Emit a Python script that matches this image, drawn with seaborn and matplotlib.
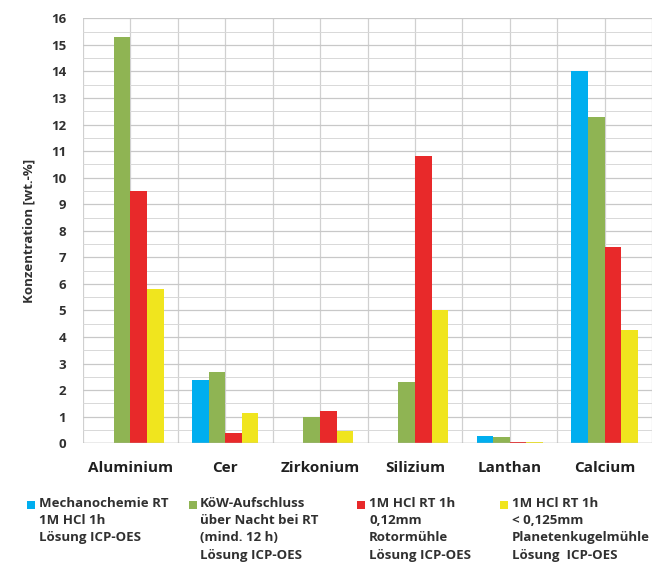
import matplotlib
matplotlib.use("Agg")
import matplotlib.pyplot as plt
from matplotlib.patches import Rectangle
from matplotlib.ticker import MultipleLocator
import numpy as np
import pandas as pd
import seaborn as sns

# Elements and concentrations [wt.-%] for each digestion method
elements = ["Aluminium", "Cer", "Zirkonium", "Silizium", "Lanthan", "Calcium"]
mechanochemie = [0.02, 2.37, 0.0, 0.03, 0.27, 14.0]
koew = [15.3, 2.7, 1.0, 2.3, 0.25, 12.3]
hcl_rotor = [9.5, 0.4, 1.2, 10.8, 0.05, 7.4]
hcl_planet = [5.8, 1.15, 0.46, 5.0, 0.06, 4.25]

series_labels = [
    "Mechanochemie RT\n1M HCl 1h\nLösung ICP-OES",
    "KöW-Aufschluss\nüber Nacht bei RT\n(mind. 12 h)\nLösung ICP-OES",
    "1M HCl RT 1h\n0,12mm\nRotormühle\nLösung ICP-OES",
    "1M HCl RT 1h\n< 0,125mm\nPlanetenkugelmühle\nLösung  ICP-OES",
]
colors = ["#00AEEF", "#8FB453", "#E8292A", "#F0E51E"]

rows = []
for lab, vals in zip(series_labels, [mechanochemie, koew, hcl_rotor, hcl_planet]):
    for el, v in zip(elements, vals):
        rows.append({"Element": el, "Methode": lab, "Wert": v})
df = pd.DataFrame(rows)

sns.set_theme(style="white")
plt.rcParams["font.family"] = ["Open Sans", "DejaVu Sans"]

W, H = 661, 569
fig = plt.figure(figsize=(W / 100, H / 100), dpi=100)
ax = fig.add_axes([83 / W, 1 - 443.3 / H, (652 - 83) / W, (443.3 - 18.3) / H])

sns.barplot(data=df, x="Element", y="Wert", hue="Methode", hue_order=series_labels,
            order=elements, palette=colors, width=0.7, gap=0, saturation=1,
            linewidth=0, ax=ax, legend=False, zorder=3)

ax.set_ylim(0, 16)
ax.set_xlim(-0.5, len(elements) - 0.5)
ax.yaxis.set_major_locator(MultipleLocator(1))
ax.yaxis.set_minor_locator(MultipleLocator(0.5))
ax.grid(axis="y", which="major", color="#c8c8c8", linewidth=0.9, zorder=0)
ax.grid(axis="y", which="minor", color="#d8d8d8", linewidth=0.7, zorder=0)
for xv in np.arange(-0.5, len(elements), 0.5):
    ax.axvline(xv, color="#d0d0d0", linewidth=0.9, zorder=0)
for s in ax.spines.values():
    s.set_visible(False)
ax.axhline(0, color="#b8b8b8", linewidth=1.0, zorder=4)

ax.set_xlabel("")
ax.set_ylabel("Konzentration [wt.-%]", fontsize=9.5, fontweight="bold",
              color="#303030", labelpad=11)
ax.tick_params(axis="y", which="both", length=0, pad=12, labelsize=9.5,
               labelcolor="#303030")
ax.tick_params(axis="x", length=0, pad=13, labelsize=11, labelcolor="#202020")
for t in ax.get_yticklabels() + ax.get_xticklabels():
    t.set_fontweight("bold")

# legend below the chart
marker_x = [27, 189, 357, 500]
text_x = [39, 200, 369, 512]
for mx, tx, lab, c in zip(marker_x, text_x, series_labels, colors):
    fig.add_artist(Rectangle((mx / W, 1 - 509 / H), 8 / W, 8 / H,
                             transform=fig.transFigure, color=c, lw=0))
    fig.text(tx / W, 1 - 497 / H, lab, ha="left", va="top", fontsize=9.5,
             fontweight="bold", color="#303030", linespacing=1.42)

fig.savefig("out.png", dpi=100, facecolor="white")
